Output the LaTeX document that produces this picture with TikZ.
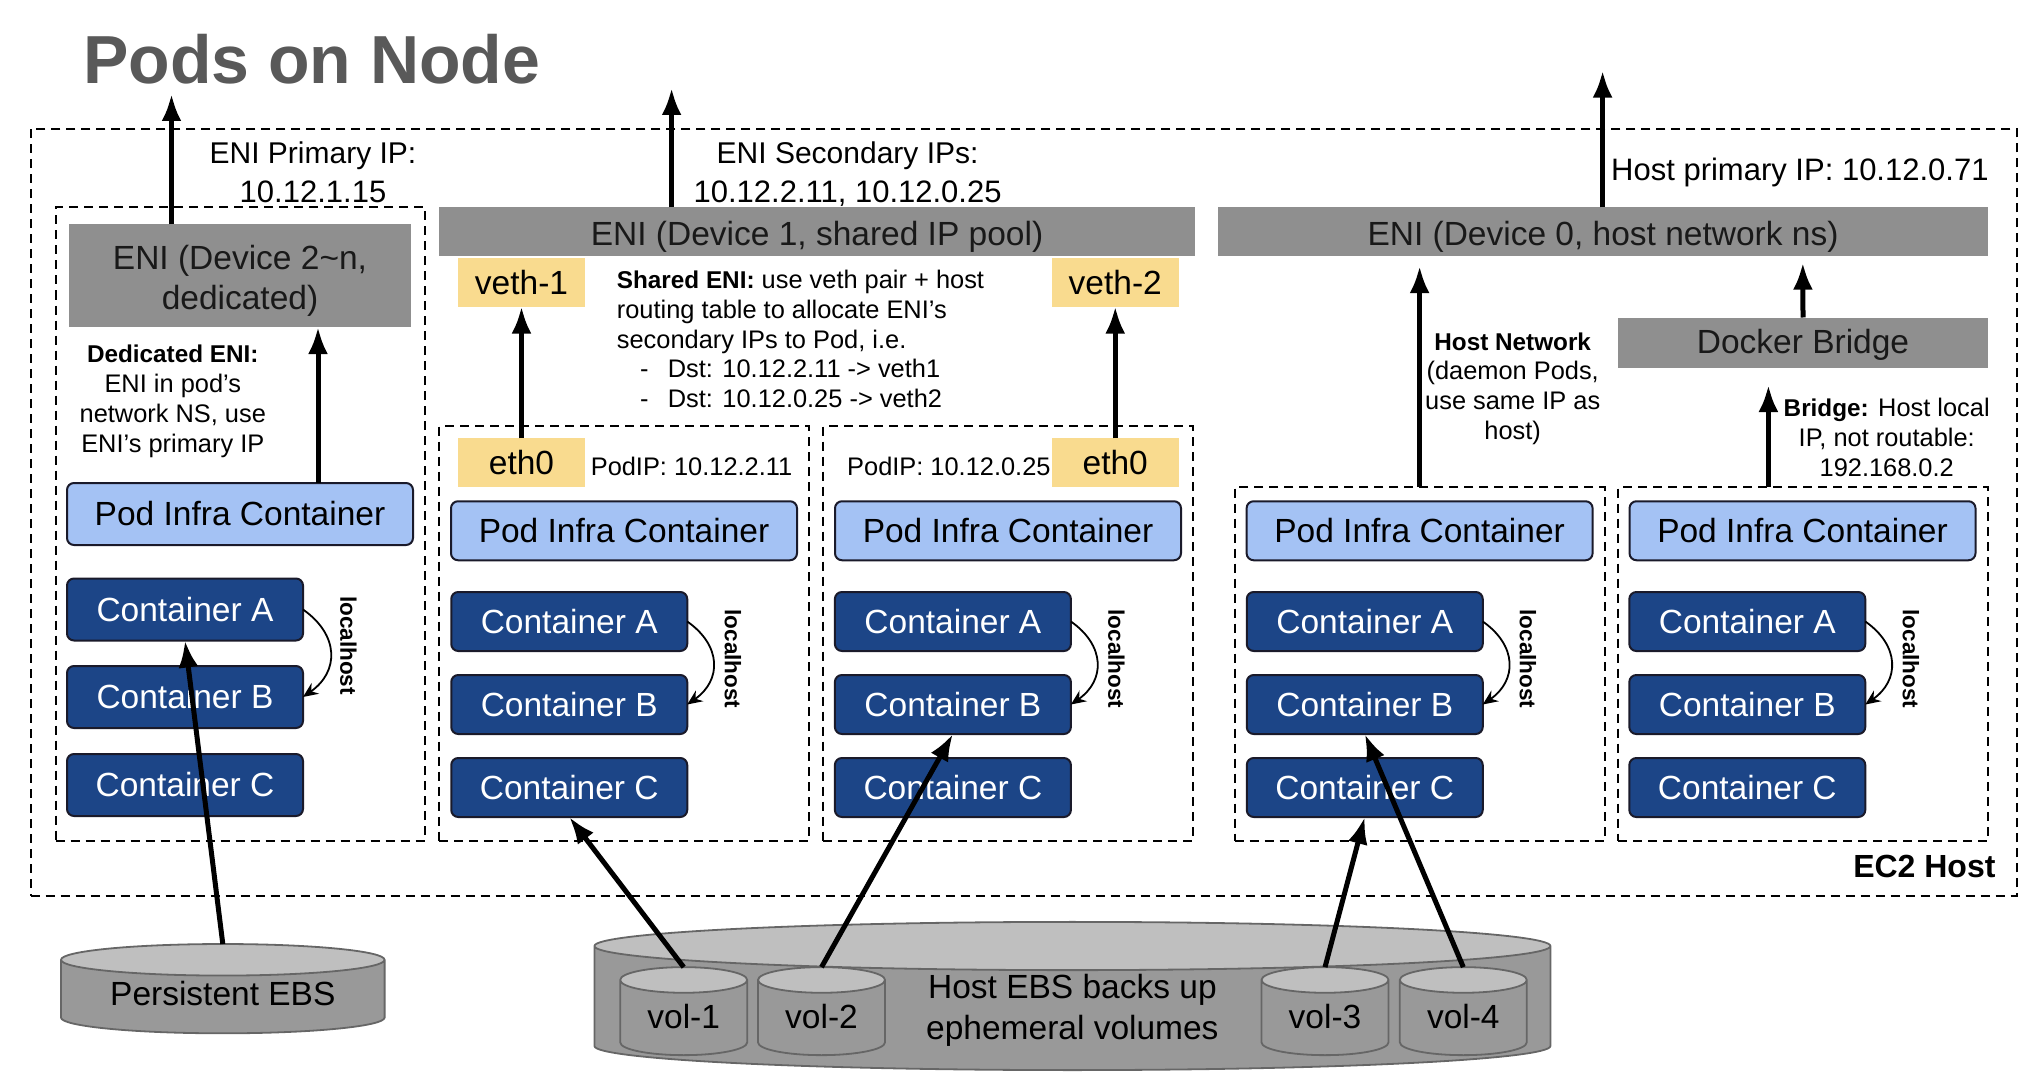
\documentclass[tikz,border=0pt]{standalone}
\usepackage{fontspec}
\setmainfont{Liberation Sans}
\usetikzlibrary{arrows.meta,shapes.geometric}
\definecolor{enigray}{HTML}{8F8F8F}
\definecolor{vethyellow}{HTML}{F9DB8F}
\definecolor{infrablue}{HTML}{A4C2F4}
\definecolor{ctrblue}{HTML}{1C4587}
\definecolor{edgedark}{HTML}{1A1A2A}
\definecolor{titlegray}{HTML}{595959}
\newcommand{\notehead}[1]{{\fontsize{24.3}{29.8}\selectfont\bfseries #1}}
\newcommand{\ipline}{\fontsize{31}{39}\selectfont}
\tikzset{
    hostbox/.style={draw, dashed, line width=2pt, dash pattern=on 9pt off 6pt, inner sep=0pt, outer sep=0pt},
    enibox/.style={fill=enigray, text=black!90, inner sep=0pt, outer sep=0pt, text height=34pt, text depth=7pt, font=\fontsize{33.5}{40}\selectfont, align=center},
    vethbox/.style={fill=vethyellow, minimum width=127pt, minimum height=48.5pt, inner sep=0pt, outer sep=0pt, font=\fontsize{33.5}{40}\selectfont},
    infrabox/.style={draw=edgedark, line width=2pt, fill=infrablue, rounded corners=7pt, minimum width=346pt, minimum height=59pt, inner sep=0pt, outer sep=0pt, font=\fontsize{33.5}{40}\selectfont},
    ctrbox/.style={draw=edgedark, line width=2pt, fill=ctrblue, text=white, rounded corners=7pt, minimum width=236pt, minimum height=59pt, inner sep=0pt, outer sep=0pt, font=\fontsize{33.5}{40}\selectfont},
    ebsdisk/.style={cylinder, shape border rotate=90, draw=black!60, line width=1.8pt, cylinder uses custom fill, cylinder body fill=black!40, cylinder end fill=black!25, inner sep=0pt, outer sep=0pt, font=\fontsize{33.5}{40.6}\selectfont, align=center},
    flow/.style={-{Latex[length=27pt,width=20pt]}, line width=5pt},
    lhost/.style={-{Stealth[length=15pt,width=13pt,inset=5pt]}, line width=1.8pt, bend left=55, looseness=1.3},
    lhosttext/.style={rotate=-90, font=\fontsize{22.5}{26}\selectfont\bfseries},
    iplabel/.style={inner sep=0pt, font=\fontsize{30}{39}\selectfont, align=center},
    notelabel/.style={inner sep=0pt, font=\fontsize{25.4}{29.8}\selectfont},
}
\begin{document}
\begin{tikzpicture}[x=1pt, y=-1pt]
    \useasboundingbox (0,0) rectangle (2036,1083);
    \node[inner sep=0pt, anchor=base west, text=titlegray, font=\fontsize{68}{80}\selectfont\bfseries] (title) at (83,84) {Pods on Node};

    % dashed boxes
    \node[hostbox, minimum width=1986.4pt, minimum height=767pt] (host) at (1023.8,512.5) {};
    \node[hostbox, minimum width=369.5pt, minimum height=633pt] (podA) at (240.25,524) {};
    \node[hostbox, minimum width=370pt, minimum height=414.5pt] (podB) at (624,633.25) {};
    \node[hostbox, minimum width=370pt, minimum height=414.5pt] (podC) at (1008,633.25) {};
    \node[hostbox, minimum width=370pt, minimum height=353.5pt] (podD) at (1419.6,663.75) {};
    \node[hostbox, minimum width=370pt, minimum height=353.5pt] (podE) at (1803,663.75) {};

    % ENIs and the bridge
    \node[enibox, text height=74pt, minimum width=342pt, minimum height=102.5pt] (eniA) at (240,275.75) {ENI (Device 2\textasciitilde n,\\dedicated)};
    \node[enibox, minimum width=756pt, minimum height=49pt] (eniB) at (817,232) {ENI (Device 1, shared IP pool)};
    \node[enibox, minimum width=770pt, minimum height=49pt] (eniC) at (1603,232) {ENI (Device 0, host network ns)};
    \node[enibox, text height=29pt, minimum width=370pt, minimum height=50.5pt] (bridge) at (1803,342.75) {Docker Bridge};
    \node[vethbox] (vethA) at (521.5,282.25) {veth-1};
    \node[vethbox] (vethB) at (1115.25,282.25) {veth-2};
    \node[vethbox] (ethA) at (521.5,462.5) {eth0};
    \node[vethbox] (ethB) at (1115.25,462.5) {eth0};

    % containers of each pod
    \node[infrabox, minimum height=62pt] (infraA) at (240,514) {Pod Infra Container};
    \foreach \pod/\xa/\xb in {B/624/569.25, C/1008/952.9, D/1419.6/1364.75, E/1802.5/1747.3}{
        \node[infrabox] (infra\pod) at (\xa,530.75) {Pod Infra Container};
        \node[ctrbox] (ctrA\pod) at (\xb,621.5) {Container A};
        \node[ctrbox] (ctrB\pod) at (\xb,704.5) {Container B};
        \node[ctrbox] (ctrC\pod) at (\xb,787.5) {Container C};
    }
    \node[ctrbox, minimum height=62pt] (ctrAA) at (185,609.5) {Container A};
    \node[ctrbox, minimum height=62pt] (ctrBA) at (185,697) {Container B};
    \node[ctrbox, minimum height=62pt] (ctrCA) at (185,785) {Container C};

    % localhost curves
    \foreach \pod/\xc/\yc in {A/348.5/645.5, B/733/659, C/1116.5/659, D/1528/659, E/1911/659}{
        \draw[lhost] (ctrA\pod.east) to (ctrB\pod.east);
        \node[lhosttext] (lh\pod) at (\xc,\yc) {localhost};
    }

    % disks
    \node[ebsdisk, aspect=0.14, text depth=7pt, minimum width=323.6pt, minimum height=89.3pt] (ebs) at (222.8,997) {Persistent EBS};
    \node[ebsdisk, aspect=0.165, text height=68pt, minimum width=956pt, minimum height=146.5pt] (hostebs) at (1072.4,1008.5) {Host EBS backs up\\ephemeral volumes};
    \foreach \vol/\xv in {1/683.7, 2/821.5, 3/1325, 4/1463.3}{
        \node[ebsdisk, aspect=0.353, text depth=3pt, minimum width=127pt, minimum height=88pt] (vol\vol) at (\xv,1018) {vol-\vol};
    }

    % labels
    \node[iplabel] (priA) at (313,172.5) {ENI Primary IP:\\\ipline 10.12.1.15};
    \node[iplabel] (secA) at (847.6,174) {ENI Secondary IPs:\\\ipline 10.12.2.11, 10.12.0.25};
    \node[iplabel, anchor=west, font=\fontsize{31}{39}\selectfont] (priB) at (1611,172.6) {Host primary IP: 10.12.0.71};
    \node[notelabel, align=center] (dedA) at (172.8,401.5) {\notehead{Dedicated ENI:}\\ENI in pod’s\\network NS, use\\ENI’s primary IP};
    \node[notelabel, align=left, anchor=west] (shareA) at (616.7,339) {\notehead{Shared ENI:} use veth pair + host\\routing table to allocate ENI’s\\secondary IPs to Pod, i.e.\\\hspace*{23.3pt}\makebox[27.7pt][l]{-}Dst: 10.12.2.11 -> veth1\\\hspace*{23.3pt}\makebox[27.7pt][l]{-}Dst: 10.12.0.25 -> veth2};
    \node[notelabel, anchor=west] (ipA) at (590.6,466) {PodIP: 10.12.2.11};
    \node[notelabel, anchor=west] (ipB) at (847,466) {PodIP: 10.12.0.25};
    \node[notelabel, align=center] (netA) at (1512.7,388.6) {\notehead{Host Network}\\(daemon Pods,\\use same IP as\\host)};
    \node[notelabel, align=center] (brA) at (1886.7,437.3) {\notehead{Bridge:} Host local\\IP, not routable:\\192.168.0.2};
    \node[anchor=east, inner sep=0pt, font=\fontsize{32}{38}\selectfont\bfseries] (ec2) at (1995.7,866) {EC2 Host};

    % free arrow ends
    \coordinate (outA) at (171.5,94);
    \coordinate (outB) at (671.6,88);
    \coordinate (outC) at (1602.6,70.6);
    \coordinate (inA) at (318,327);
    \coordinate (inB) at (1419.6,266);
    \coordinate (inC) at (1802.8,262.7);
    \coordinate (inD) at (1768.4,385);

    \draw[flow] (eniA.north -| outA) -- (outA);
    \draw[flow] (eniB.north -| outB) -- (outB);
    \draw[flow] (eniC.north -| outC) -- (outC);
    \draw[flow] (infraA.north -| inA) -- (inA);
    \draw[flow] (ethA.north) -- (vethA.south);
    \draw[flow] (ethB.north) -- (vethB.south);
    \draw[flow] (podD.north -| inB) -- (inB);
    \draw[flow] (bridge.north) -- (inC);
    \draw[flow] (podE.north -| inD) -- (inD);

    \draw[flow] (ebs.north) -- (ctrAA.south);
    \draw[flow] (vol1.north) -- (ctrCB.south);
    \draw[flow] (vol2.north) -- (ctrBC.south);
    \draw[flow] (vol3.north) -- (ctrCD.south);
    \draw[flow] (vol4.north) -- (ctrBD.south);
\end{tikzpicture}
\end{document}
